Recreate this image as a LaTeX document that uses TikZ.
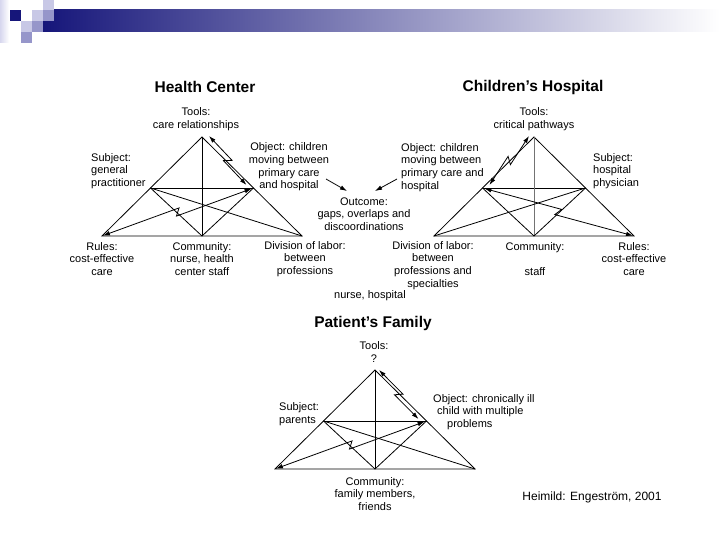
\documentclass[tikz,border=0pt]{standalone}
\usepackage{fontspec}
\setmainfont{Liberation Sans}
\usetikzlibrary{calc,arrows.meta}
\definecolor{navy}{RGB}{22,22,122}
\definecolor{lavA}{RGB}{200,200,230}
\definecolor{lavB}{RGB}{150,150,202}
\definecolor{lavC}{RGB}{215,215,238}
\newcommand\mktri[3]{%
  \coordinate (#1T) at (#2,#3-99);
  \coordinate (#1A) at (#2-100,#3);
  \coordinate (#1B) at (#2,#3);
  \coordinate (#1C) at (#2+100,#3);
  \coordinate (#1L) at ($(#1T)!0.515!(#1A)$);
  \coordinate (#1R) at ($(#1T)!0.515!(#1C)$);
  \draw[edge] (#1A) -- (#1T) -- (#1C) -- cycle;
  \draw[edge] (#1L) -- (#1R);
}
\newcommand\zz[3]{\draw[#1] (#2) -- ($(#2)!0.5!(#3)!2.5pt!(#3)!3.5pt!90:(#3)$) -- ($(#2)!0.5!(#3)!-2.5pt!(#3)!3.5pt!-90:(#3)$) -- (#3);}
\begin{document}
\begin{tikzpicture}[x=1pt,y=-1pt,
  lbl/.style={font=\fontsize{11}{12.7}\selectfont, align=center, inner sep=0pt},
  ttl/.style={font=\fontsize{15.5}{17}\selectfont\bfseries, inner sep=0pt},
  edge/.style={line width=0.8pt, line join=miter},
  arr/.style={edge, -{Latex[length=7pt,width=4.5pt]}},
  darr/.style={edge, {Latex[length=7pt,width=4.5pt]}-{Latex[length=7pt,width=4.5pt]}}]
\useasboundingbox (0,0) rectangle (720,540);
\fill[white] (0,0) rectangle (720,540);
% header decoration
\shade[left color=lavC, right color=white] (0,0) rectangle (9,43);
\shade[left color=navy, right color=white] (43,10) rectangle (720,32);
\fill[navy] (10,10) rectangle (21,21);
\fill[lavA] (32,10) rectangle (43,21);
\fill[lavA] (43,0) rectangle (54,10);
\fill[lavB] (43,10) rectangle (54,21);
\fill[lavA] (21,21) rectangle (32,32);
\fill[lavB] (32,21) rectangle (43,32);
\fill[lavB] (21,32) rectangle (32,43);

% ---------- Health Center ----------
\mktri{H}{202}{236}
\draw[edge] (HT) -- (HB);
\draw[edge] (HL) -- (HB);
\draw[edge] (HL) -- (HC);
\draw[edge] (HB) -- (HR);
\zz{darr, shorten <=1pt, shorten >=2pt}{HA}{HR}
\coordinate (Ht) at ($(HT)+(7,-1)$);
\coordinate (Ho) at ($(HR)+(-7,-3)$);
\zz{darr}{Ht}{Ho}

\node[ttl] (hcT) at (205,87) {Health Center};
\node[lbl] (hcTools) at (196,119) {Tools:\\care relationships};
\node[lbl, align=left, anchor=west] (hcSubj) at (91,171) {Subject:\\general\\practitioner};
\node[lbl] (hcObj) at (289,167) {Object: children\\moving between\\primary care\\and hospital};
\node[lbl] (out) at (364,214) {Outcome:\\gaps, overlaps and\\discoordinations};
\node[lbl] (hcRules) at (102,259) {Rules:\\cost-effective\\care};
\node[lbl] (hcComm) at (202,259) {Community:\\nurse, health\\center staff};
\node[lbl] (hcDiv) at (305,259) {Division of labor:\\between\\professions};

\coordinate (a1s) at (326,179);
\coordinate (a1e) at (347,191);
\draw[arr] (a1s) -- (a1e);
\coordinate (a2s) at (397,179);
\coordinate (a2e) at (375,191);
\draw[arr] (a2s) -- (a2e);

% ---------- Children's Hospital ----------
\mktri{C}{534}{236}
\draw[edge, black!55] (CT) -- (CB);
\draw[edge] (CL) -- (CB);
\draw[edge] (CB) -- (CR);
\draw[edge] (CA) -- (CR);
\zz{darr, shorten <=2pt, shorten >=1pt}{CL}{CC}
\coordinate (Ct) at ($(CT)+(-5,-1)$);
\coordinate (Co) at ($(CL)+(7,-3)$);
\zz{darr}{Ct}{Co}

\node[ttl] (chT) at (533,87) {Children's Hospital};
\node[lbl] (chTools) at (534,119) {Tools:\\critical pathways};
\node[lbl, align=left, anchor=west] (chObj) at (401,167.5) {Object: children\\moving between\\primary care and\\hospital};
\node[lbl, align=left, anchor=west] (chSubj) at (593,171) {Subject:\\hospital\\physician};
\node[lbl] (chDiv) at (433,265.5) {Division of labor:\\between\\professions and\\specialties};
\node[lbl] (chComm) at (535,259) {Community:\\\mbox{}\\staff};
\node[lbl] (chRules) at (634,259) {Rules:\\cost-effective\\care};
\node[lbl] (nh) at (370,296) {nurse, hospital};

% ---------- Patient's Family ----------
\mktri{P}{375}{469}
\draw[edge] (PT) -- (PB);
\draw[edge] (PL) -- (PB);
\draw[edge] (PL) -- (PC);
\draw[edge] (PB) -- (PR);
\zz{darr, shorten <=1pt, shorten >=2pt}{PA}{PR}
\coordinate (Pt) at ($(PT)+(4,0)$);
\coordinate (Po) at ($(PR)+(-8,-2)$);
\zz{darr}{Pt}{Po}

\node[ttl] (pfT) at (373,323) {Patient's Family};
\node[lbl] (pfTools) at (374,352) {Tools:\\?};
\node[lbl, align=left, anchor=west] (pfSubj) at (279,414) {Subject:\\parents};
\node[lbl, align=left, anchor=west] (pfObj) at (433,412) {Object: chronically ill\\\hspace*{4pt}child with multiple\\\hspace*{14pt}problems};
\node[lbl] (pfComm) at (375,494) {Community:\\family members,\\friends};
\node[font=\fontsize{12}{14}\selectfont, inner sep=0pt] (src) at (592,497) {Heimild: Engeström, 2001};
\end{tikzpicture}
\end{document}
